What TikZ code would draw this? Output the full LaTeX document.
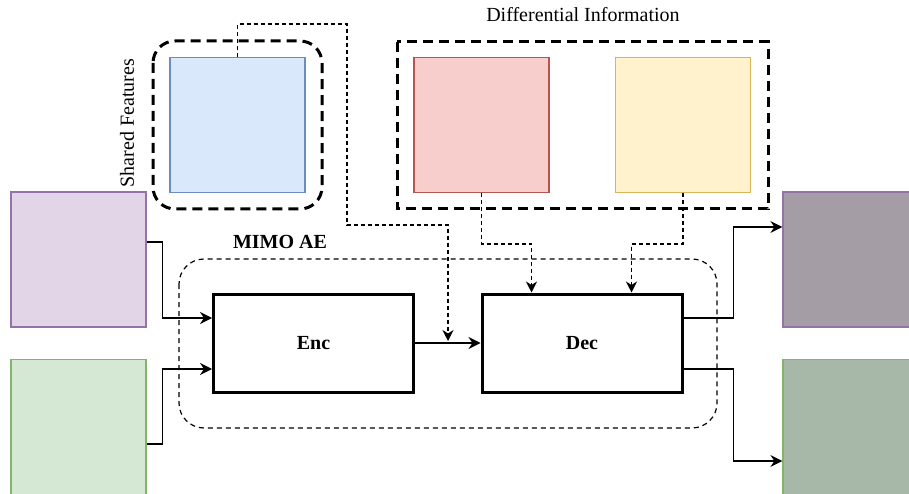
\documentclass[tikz,border=0pt]{standalone}
\usepackage{fontspec}
\setmainfont{Liberation Serif}
\usetikzlibrary{arrows.meta,calc}
\definecolor{bluef}{HTML}{DAE8FC}\definecolor{blued}{HTML}{6C8EBF}
\definecolor{redf}{HTML}{F8CECC}\definecolor{redd}{HTML}{B85450}
\definecolor{yelf}{HTML}{FFF2CC}\definecolor{yeld}{HTML}{D6B656}
\definecolor{purf}{HTML}{E1D5E7}\definecolor{purd}{HTML}{9673A6}
\definecolor{grnf}{HTML}{D5E8D4}\definecolor{grnd}{HTML}{82B366}
\definecolor{gpurf}{HTML}{A59DA6}\definecolor{ggrnf}{HTML}{A8B8A8}
\tikzset{
  sq/.style={rectangle,inner sep=0pt,minimum width=135pt,minimum height=135pt,line width=1.2pt},
  blk/.style={rectangle,draw=black,line width=3pt,minimum width=200pt,minimum height=98pt,inner sep=0pt,font=\fontsize{20}{24}\selectfont\bfseries},
  bigdash/.style={draw=black,line width=3pt,dash pattern=on 10pt off 6pt},
  thindash/.style={draw=black,line width=1.2pt,dash pattern=on 5pt off 4pt},
  conn/.style={draw=black,line width=1.4pt,-{Stealth[length=12pt,width=12pt,inset=4pt]}},
  dconn/.style={draw=black,line width=1.3pt,dash pattern=on 4pt off 3pt,-{Stealth[length=11pt,width=11pt,inset=3.5pt]}},
  lbl/.style={font=\fontsize{20}{24}\selectfont,inner sep=0pt}
}
\begin{document}
\begin{tikzpicture}[x=1pt,y=-1pt]
\useasboundingbox (0,0) rectangle (909,494);
% frames
\draw[bigdash,rounded corners=22pt] (153,41) rectangle (322,209);
\draw[bigdash] (397,42) rectangle (768,209);
\draw[thindash,rounded corners=25pt] (179,259) rectangle (717,428);
% squares
\node[sq,fill=bluef,draw=blued] (blue) at (237.5,125) {};
\node[sq,fill=redf,draw=redd] (red) at (481.5,125) {};
\node[sq,fill=yelf,draw=yeld] (yel) at (683,125) {};
\node[sq,fill=purf,draw=purd] (pur) at (78.5,259.5) {};
\node[sq,fill=grnf,draw=grnd] (grn) at (78.5,427) {};
\node[sq,fill=gpurf,draw=purd] (gpur) at (850.5,259.5) {};
\node[sq,fill=ggrnf,draw=grnd] (ggrn) at (850.5,427) {};
% blocks
\node[blk] (enc) at (313.5,343) {Enc};
\node[blk] (dec) at (582,343) {Dec};
% labels
\node[lbl] (difft) at (583,15) {Differential Information};
\node[lbl,rotate=90] (sharedt) at (127,123) {Shared Features};
\node[lbl,font=\fontsize{20}{24}\selectfont\bfseries] (mimot) at (280,242) {MIMO AE};
% connectors
\coordinate (shtip) at (448,341);
\draw[dconn] (blue.north) |- (347,24) |- (448,225) -- (shtip);
\draw[dconn] (red.south) -- ++(0,51) -| ([xshift=51pt]dec.north west);
\draw[dconn] (yel.south) -- ++(0,51) -| ([xshift=151pt]dec.north west);
\draw[conn] ([yshift=17.5pt]pur.east) -- ++(16,0) |- ([yshift=25pt]enc.west);
\draw[conn] ([yshift=-17pt]grn.east) -- ++(16,0) |- ([yshift=-26pt]enc.west);
\draw[conn] (enc.east) -- (dec.west);
\draw[conn] ([yshift=25pt]dec.east) -- ++(50,0) |- ([yshift=32.5pt]gpur.west);
\draw[conn] ([yshift=-26pt]dec.east) -- ++(50,0) |- ([yshift=-34pt]ggrn.west);
\end{tikzpicture}
\end{document}
